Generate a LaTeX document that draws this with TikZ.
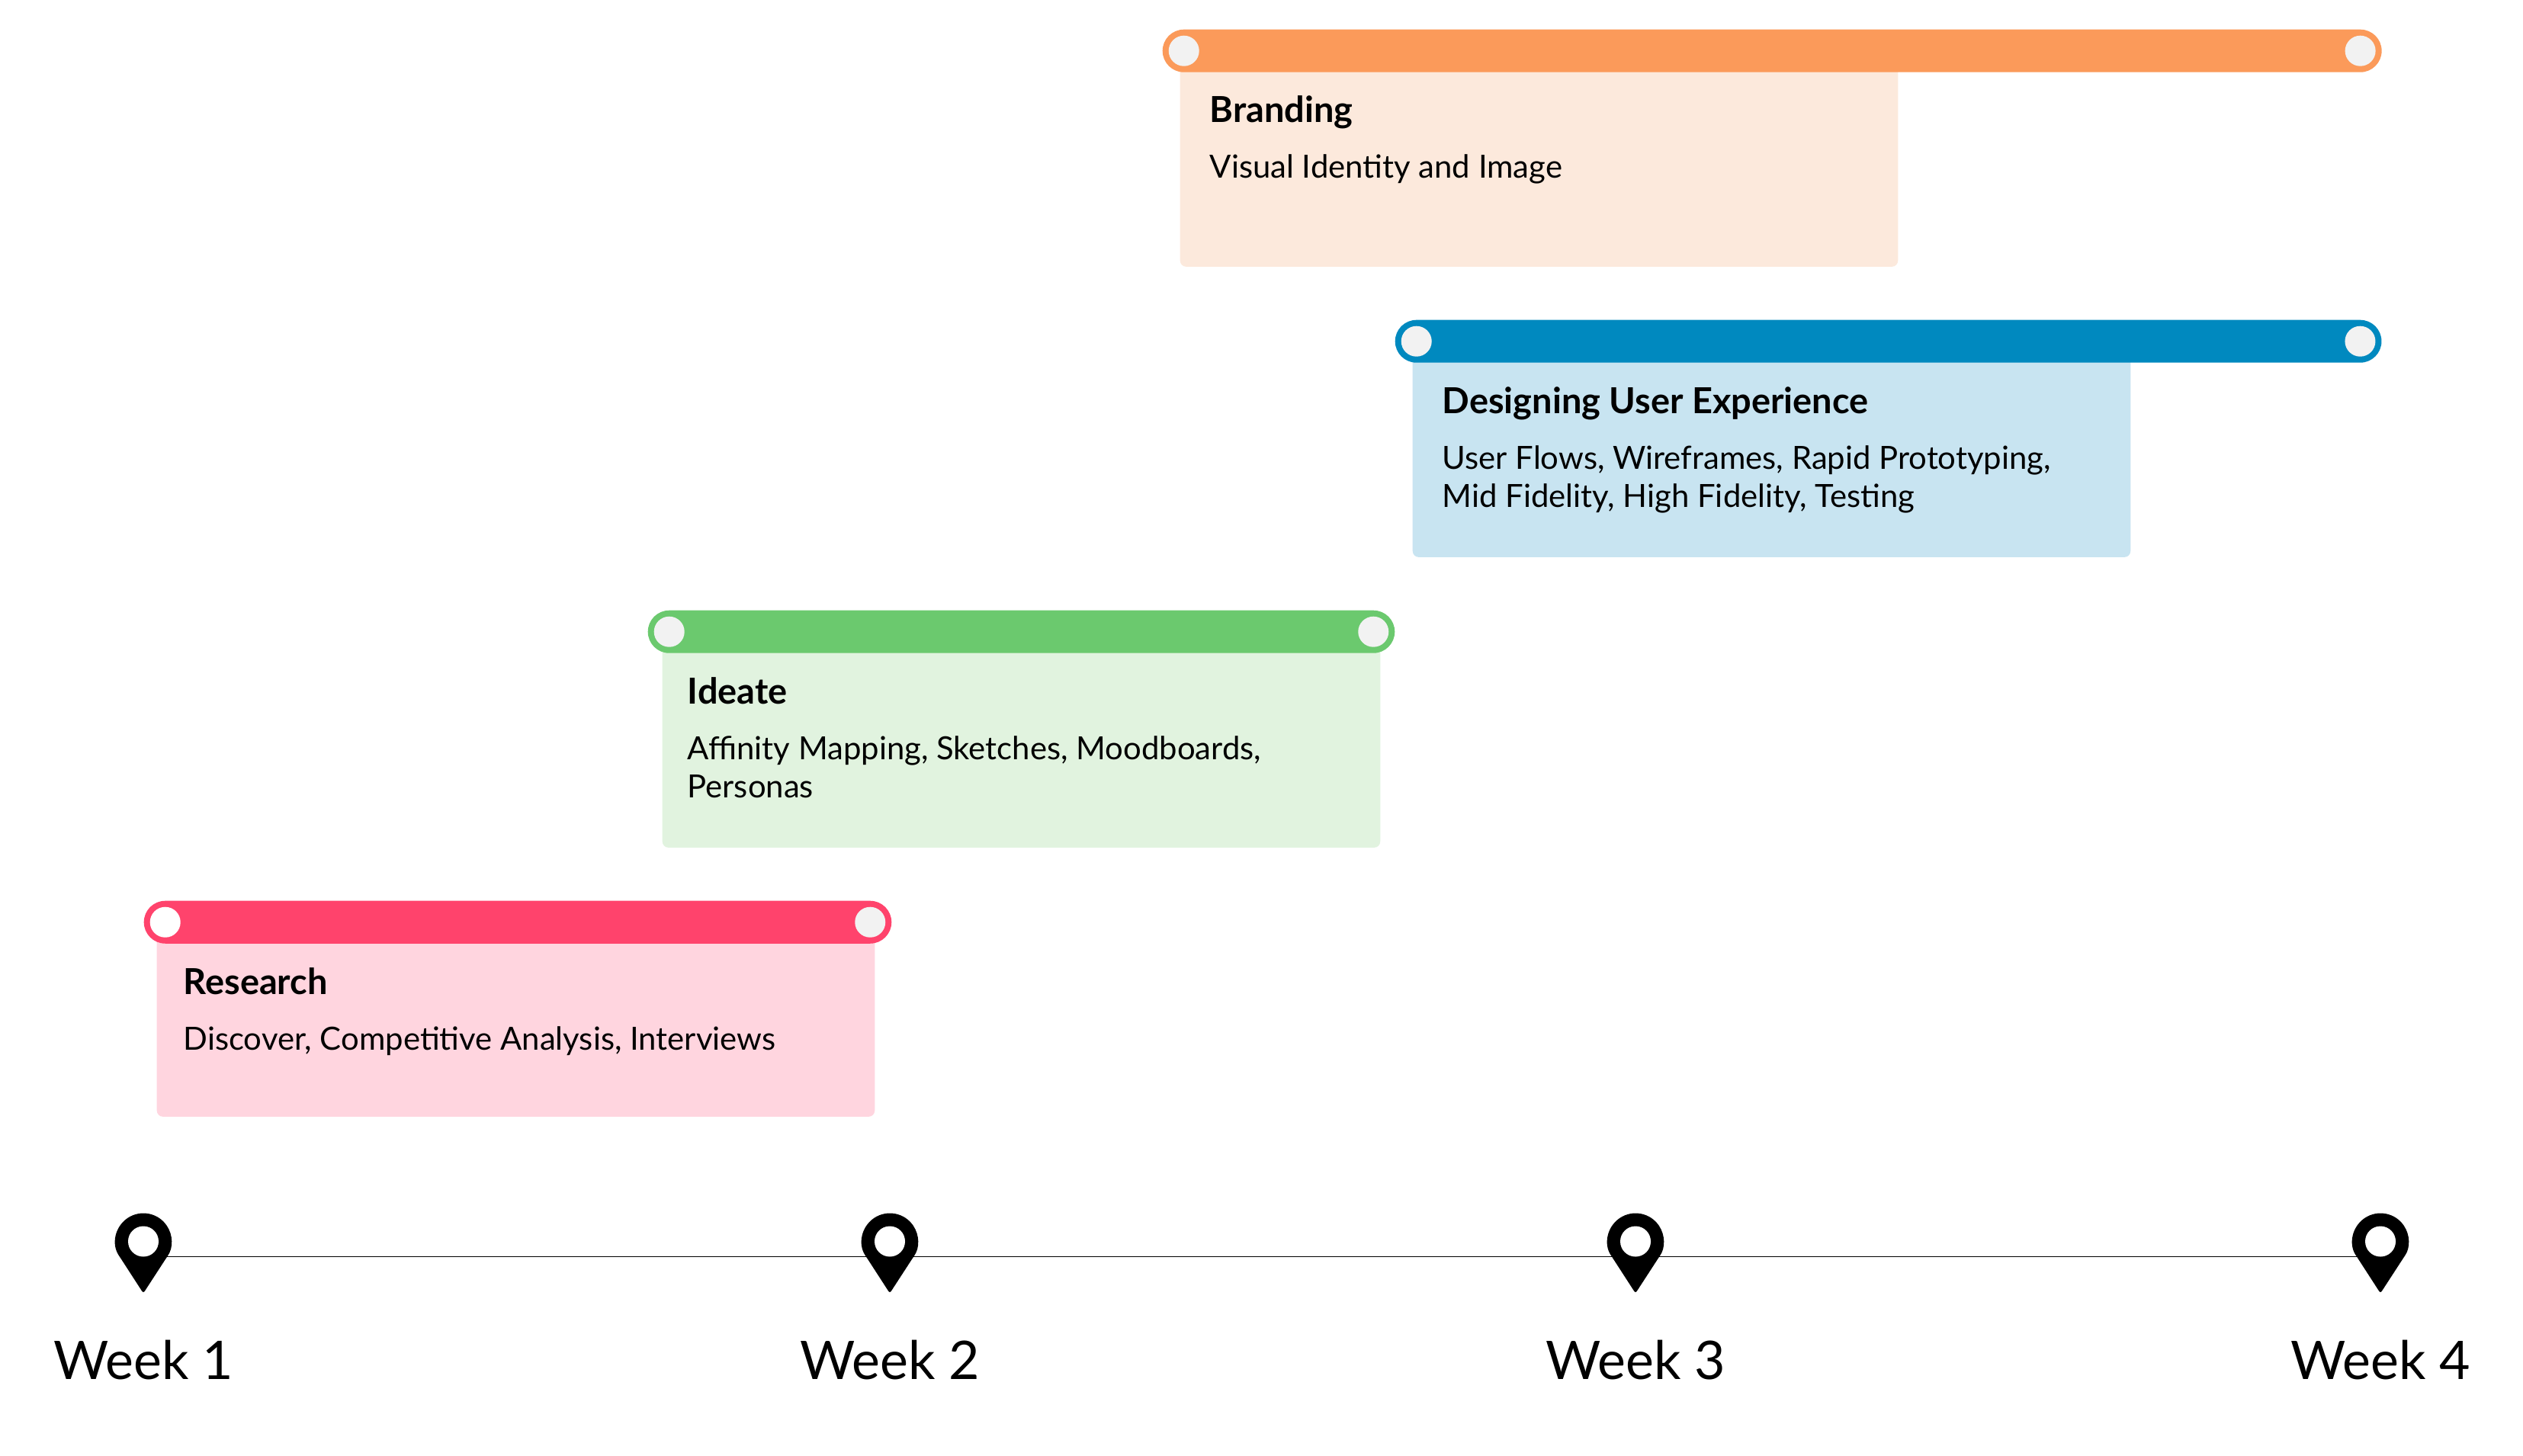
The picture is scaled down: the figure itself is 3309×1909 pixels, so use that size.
\documentclass[tikz,border=0pt]{standalone}
\usepackage{fontspec}
\setmainfont{Lato}
\usetikzlibrary{positioning}
\definecolor{brandorange}{HTML}{FB9A5A}
\definecolor{brandtint}{HTML}{FCE9DC}
\definecolor{uxblue}{HTML}{0089BF}
\definecolor{uxtint}{HTML}{C8E4F1}
\definecolor{ideagreen}{HTML}{6BC96E}
\definecolor{ideatint}{HTML}{E1F3DF}
\definecolor{researchred}{HTML}{FF436C}
\definecolor{researchtint}{HTML}{FFD5DF}
\definecolor{handlegrey}{HTML}{F2F2F2}
\tikzset{
    trackbar/.style={rectangle, rounded corners=0.28cm, inner sep=0pt, minimum height=0.56cm, anchor=north west},
    trackcard/.style={rectangle, rounded corners=0.08cm, inner sep=0pt, anchor=north west},
    handle/.style={circle, fill=handlegrey, inner sep=0pt, minimum size=0.4cm},
    tasktitle/.style={anchor=base west, inner sep=0pt, font=\fontsize{13.35}{16}\bfseries},
    taskdetail/.style={anchor=base west, inner sep=0pt, align=left, font=\fontsize{11.9}{14.2}\selectfont},
    weeklabel/.style={anchor=base, inner sep=0pt, font=\fontsize{19.85}{24}\selectfont},
    timeline/.style={draw=black, line width=0.25pt},
    mappin/.pic={
        \fill[black, rounded corners=0.03cm] (-30.6,0.7) arc[start angle=146, end angle=394, radius=37] -- (0,48) -- cycle;
        \fill[white] (0,-20) circle[radius=20];
    }
}
\begin{document}
\begin{tikzpicture}[x=0.01cm, y=-0.01cm]
    \useasboundingbox (0,0) rectangle (3309,1909);

    % Branding
    \node[trackcard, fill=brandtint, minimum width=9.41cm, minimum height=2.79cm] (brandcard) at (1547,70) {};
    \node[trackbar, fill=brandorange, minimum width=15.98cm] (brandbar) at (1524,38) {};
    \node[handle, right=0.08cm of brandbar.west] (brandstart) {};
    \node[handle, left=0.08cm of brandbar.east] (brandend) {};
    \node[tasktitle] (brandtitle) at (1586,160) {Branding};
    \node[taskdetail] (branddetail) at (1586,233) {Visual Identity and Image};

    % Designing User Experience
    \node[trackcard, fill=uxtint, minimum width=9.41cm, minimum height=2.8cm] (uxcard) at (1852,450) {};
    \node[trackbar, fill=uxblue, minimum width=12.93cm] (uxbar) at (1829,419) {};
    \node[handle, right=0.08cm of uxbar.west] (uxstart) {};
    \node[handle, left=0.08cm of uxbar.east] (uxend) {};
    \node[tasktitle] (uxtitle) at (1891,542) {Designing User Experience};
    \node[taskdetail] (uxdetail) at (1891,665) {User Flows, Wireframes, Rapid Prototyping,\\Mid Fidelity, High Fidelity, Testing};

    % Ideate
    \node[trackcard, fill=ideatint, minimum width=9.41cm, minimum height=2.81cm] (ideacard) at (868,830) {};
    \node[trackbar, fill=ideagreen, minimum width=9.79cm] (ideabar) at (849,800) {};
    \node[handle, right=0.08cm of ideabar.west] (ideastart) {};
    \node[handle, left=0.08cm of ideabar.east] (ideaend) {};
    \node[tasktitle] (ideatitle) at (901,923) {Ideate};
    \node[taskdetail] (ideadetail) at (901,1046) {Affinity Mapping, Sketches, Moodboards,\\Personas};

    % Research
    \node[trackcard, fill=researchtint, minimum width=9.41cm, minimum height=2.54cm] (researchcard) at (205,1210) {};
    \node[trackbar, fill=researchred, minimum width=9.8cm] (researchbar) at (188,1181) {};
    \node[handle, fill=white, right=0.08cm of researchbar.west] (researchstart) {};
    \node[handle, left=0.08cm of researchbar.east] (researchend) {};
    \node[tasktitle] (researchtitle) at (240,1304) {Research};
    \node[taskdetail] (researchdetail) at (240,1377) {Discover, Competitive Analysis, Interviews};

    % timeline
    \coordinate (week1) at (188,1648.5);
    \coordinate (week2) at (1167,1648.5);
    \coordinate (week3) at (2145,1648.5);
    \coordinate (week4) at (3122,1648.5);
    \draw[timeline] (week1) -- (week2);
    \draw[timeline] (week2) -- (week3);
    \draw[timeline] (week3) -- (week4);
    \pic at (week1) {mappin};
    \pic at (week2) {mappin};
    \pic at (week3) {mappin};
    \pic at (week4) {mappin};
    \node[weeklabel] (week1label) at (188,1809) {Week 1};
    \node[weeklabel] (week2label) at (1167,1809) {Week 2};
    \node[weeklabel] (week3label) at (2145,1809) {Week 3};
    \node[weeklabel] (week4label) at (3122,1809) {Week 4};
\end{tikzpicture}
\end{document}
